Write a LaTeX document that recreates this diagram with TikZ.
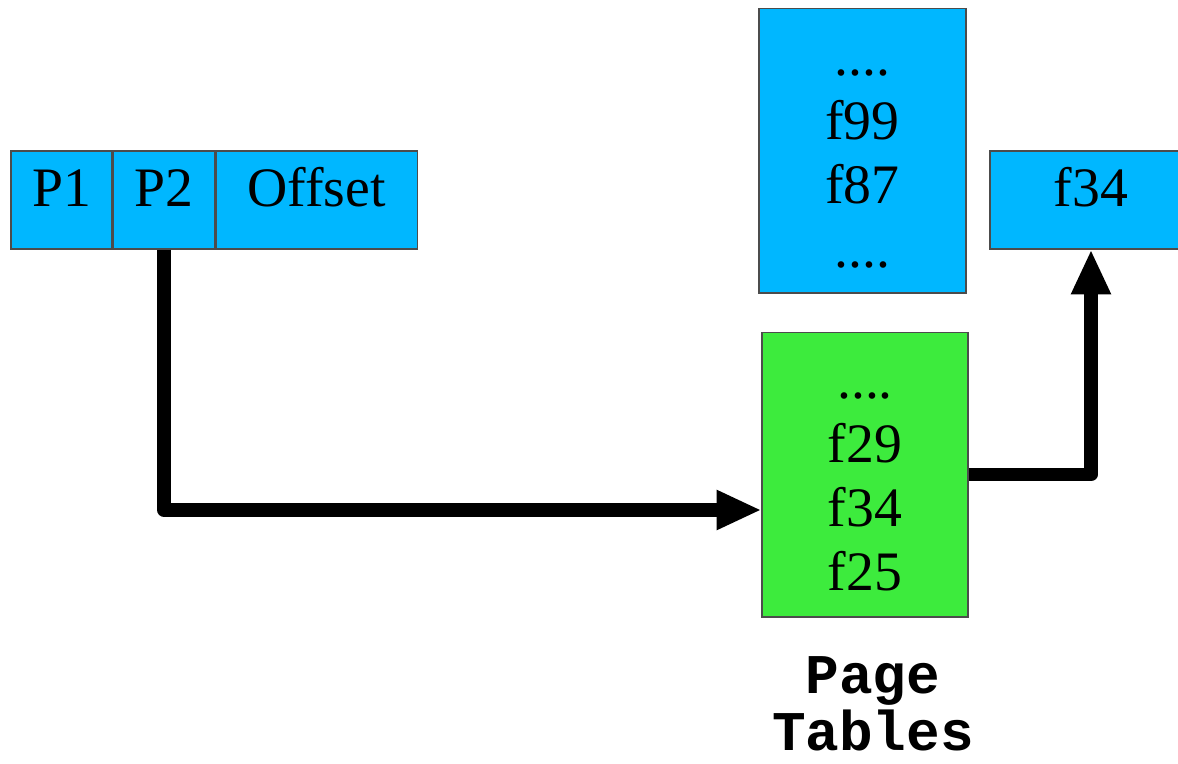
\documentclass[tikz,border=0pt]{standalone}
\usepackage{fontspec}
\setmainfont{Liberation Serif}
\setmonofont{Liberation Mono}
\usetikzlibrary{arrows.meta,positioning,calc}
\definecolor{tblblue}{RGB}{0,183,255}
\definecolor{tblgreen}{RGB}{61,235,61}
\newcommand{\moredots}{....}
\tikzset{
  field/.style={draw=black!70,line width=0.6pt,fill=tblblue,minimum height=1.96cm,
    inner sep=0pt,text height=0.75em,text depth=0pt,font=\fontsize{31.7}{36}\selectfont},
  tbl/.style={draw=black!70,line width=0.6pt,minimum height=5.7cm,inner sep=0pt},
  entry/.style={anchor=base,inner sep=0pt,font=\fontsize{31.7}{36}\selectfont},
  caption/.style={anchor=base,inner sep=0pt,font=\fontsize{31.9}{36}\selectfont\ttfamily\bfseries},
  fatarrow/.style={line width=7.8pt,line join=round,-{Triangle[length=25.5pt,width=21pt]}}
}
\begin{document}
\begin{tikzpicture}[x=0.02cm,y=-0.02cm]
\useasboundingbox (0,0) rectangle (1178,764);
% virtual address
\node[field,minimum width=2.02cm] (p1) at (61.5,200) {P1};
\node[field,minimum width=2.04cm,right=0pt of p1] (p2) {P2};
\node[field,minimum width=4.02cm,right=0pt of p2] (off) {Offset};
% page tables
\node[tbl,fill=tblblue,minimum width=4.14cm] (upper) at (862.5,150.5) {};
\foreach \t [count=\i] in {\moredots,f99,f87,\moredots}
  \node[entry] (up\i) at (862.5,{11+64*\i}) {\t};
\node[tbl,fill=tblgreen,minimum width=4.12cm] (green) at (865,474.5) {};
\foreach \t [count=\i] in {\moredots,f29,f34,f25}
  \node[entry] (gr\i) at (865,{334+64*\i}) {\t};
\node[caption] (cap1) at (873,693) {Page};
\node[caption] (cap2) at (873,750) {Tables};
% frame
\node[field,minimum width=4.04cm] (f34) at (1091,200) {f34};
\draw[fatarrow] (p2.south) |- ($(green.west)+(0,35.5)$);
\draw[fatarrow] (green.east) -| (f34.south);
\end{tikzpicture}
\end{document}
